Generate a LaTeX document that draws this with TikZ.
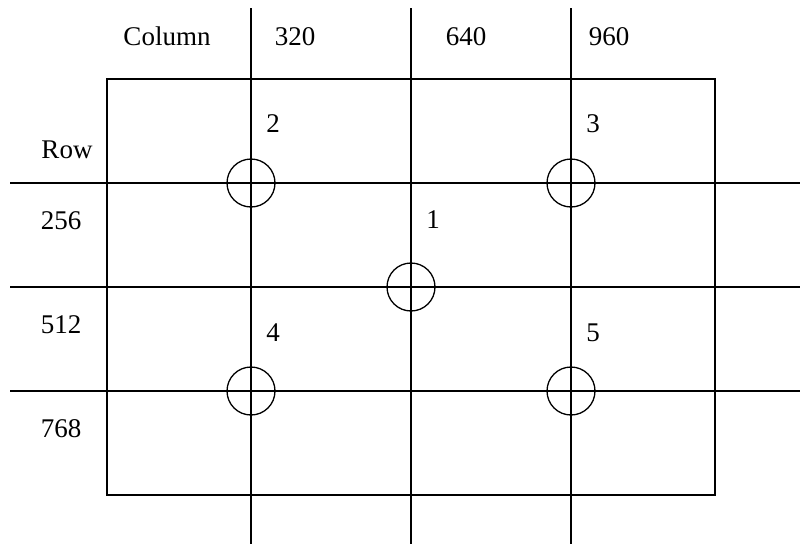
\documentclass[tikz,border=0pt]{standalone}
\usepackage{fontspec}
\setmainfont{Liberation Serif}
\usetikzlibrary{positioning}

\begin{document}
\begin{tikzpicture}[
    x=1pt, y=-1pt,
    grid/.style={line width=2.4pt, black},
    mark point/.style={draw, circle, line width=1.3pt, minimum size=48pt, inner sep=0pt},
    lbl/.style={anchor=base, inner sep=0pt, font=\fontsize{27}{31}\selectfont},
]
\useasboundingbox (0,0) rectangle (800,544);

% Frame
\draw[grid] (107,79) rectangle (715,495);

% Column and row lines
\foreach \cx in {251,411,571} \draw[grid] (\cx,8) -- (\cx,544);
\foreach \ry in {183,287,391} \draw[grid] (10,\ry) -- (800,\ry);

% Header labels
\node[lbl] (col) at (167,45) {Column};
\node[lbl] (c320) at (295,45) {320};
\node[lbl] (c640) at (466,45) {640};
\node[lbl] (c960) at (609,45) {960};
\node[lbl] (row) at (67,158) {Row};
\node[lbl] (r256) at (61,229) {256};
\node[lbl] (r512) at (61,333) {512};
\node[lbl] (r768) at (61,437) {768};

% Sample points
\node[mark point] (p1) at (411,287) {};
\node[mark point] (p2) at (251,183) {};
\node[mark point] (p3) at (571,183) {};
\node[mark point] (p4) at (251,391) {};
\node[mark point] (p5) at (571,391) {};
\node[lbl] (n1) at (433,228) {1};
\node[lbl] (n2) at (273,132) {2};
\node[lbl] (n3) at (593,132) {3};
\node[lbl] (n4) at (273,341) {4};
\node[lbl] (n5) at (593,341) {5};
\end{tikzpicture}
\end{document}
